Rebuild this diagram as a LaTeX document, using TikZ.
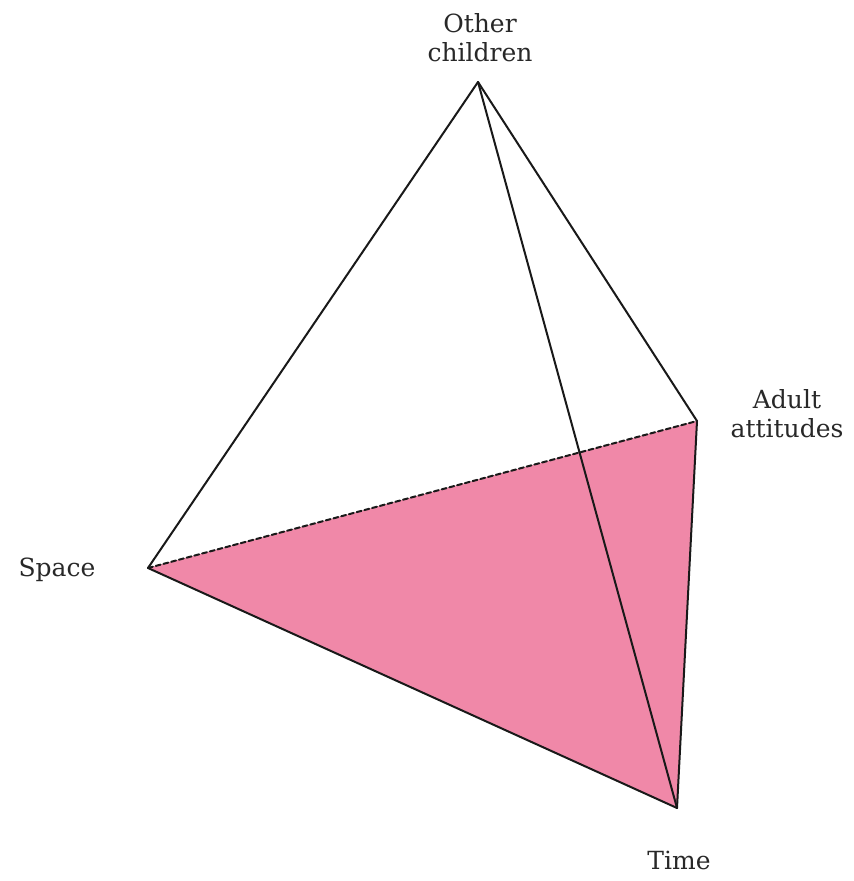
\documentclass[tikz,border=0pt]{standalone}
\usepackage{fontspec}
\setmainfont{DejaVu Serif}
\usepackage{tikz}
\usepackage{xcolor}
\definecolor{facepink}{RGB}{240,136,168}
\definecolor{labelgray}{RGB}{40,40,40}

\begin{document}
\begin{tikzpicture}[x=1pt,y=-1pt,line join=round,line cap=round,
  edge/.style={black!90,line width=2pt},
  hidden/.style={edge,dash pattern=on 5pt off 3pt},
  lbl/.style={text=labelgray,align=center,font=\fontsize{25}{29}\selectfont}]
\useasboundingbox (0,0) rectangle (854,881);
\coordinate (top) at (478,82);
\coordinate (adult) at (697,421);
\coordinate (space) at (148,568);
\coordinate (time) at (677,808);
% shaded face
\fill[facepink] (space) -- (adult) -- (time) -- cycle;
\draw[edge] (top) -- (space);
\draw[edge] (top) -- (adult);
\draw[edge] (top) -- (time);
\draw[edge] (adult) -- (time);
\draw[edge] (space) -- (time);
\draw[hidden] (space) -- (adult);
\node[lbl] (lothers) at (480,38) {Other\\children};
\node[lbl] (ladult) at (787,414) {Adult\\attitudes};
\node[lbl] (lspace) at (57,570) {Space};
\node[lbl] (ltime) at (679,860) {Time};
\end{tikzpicture}
\end{document}
